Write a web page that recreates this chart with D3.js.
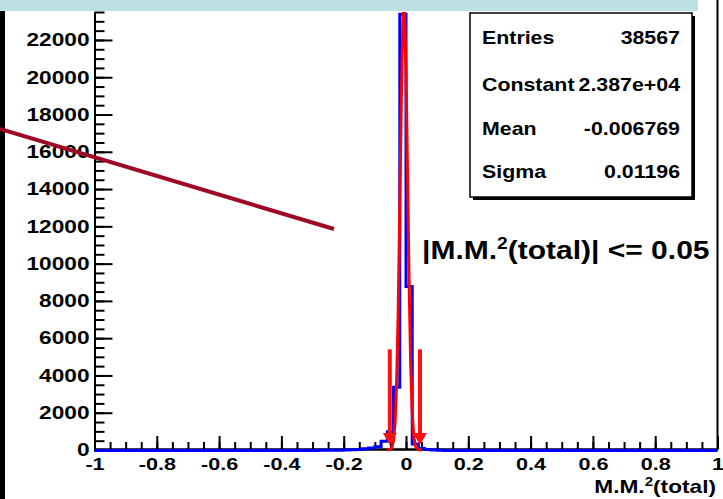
<!DOCTYPE html>
<html>
<head>
<meta charset="utf-8">
<script src="https://cdn.jsdelivr.net/npm/d3@7"></script>
<style>
  body { margin: 0; background: #fff; }
  text { font-family: "Liberation Sans", Arial, sans-serif; font-weight: bold; fill: #000; }
</style>
</head>
<body>
<svg width="723" height="499"></svg>
<script>
// histogram: bins of 0.02 starting at -0.30, everything else is empty
const binStart = -0.30;
const binWidth = 0.02;
const counts = [5, 8, 10, 15, 20, 30, 45, 60, 90, 130, 200, 500, 1000, 3400,
  23400, 8800, 350, 110, 50, 25, 12, 6];

// gaus fit
const fitX = [-0.06, -0.05, -0.045, -0.04, -0.035, -0.03, -0.025, -0.02, -0.015, -0.01,
  -0.0068, -0.005, 0, 0.005, 0.01, 0.015, 0.02, 0.025, 0.03, 0.04, 0.05];
const fitY = [2, 40, 150, 520, 1500, 3700, 7500, 13000, 18900, 23000,
  23870, 23600, 20300, 14700, 8960, 4600, 1980, 720, 220, 12, 0];

// cut arrows
const cutX = [-0.052, 0.045];
const cutFrom = 5400, cutTo = 270;

const statNames = ["Entries", "Constant", "Mean", "Sigma"];
const statValues = ["38567", "2.387e+04", "-0.006769", "0.01196"];

const yMajor = d3.range(0, 22001, 2000);
const yMinor = d3.range(0, 23501, 500);
const xMajor = [-1, -0.8, -0.6, -0.4, -0.2, 0, 0.2, 0.4, 0.6, 0.8, 1];
const xMinor = d3.range(-1, 1.001, 0.05);

const svg = d3.select("svg");

const x = d3.scaleLinear().domain([-1, 1]).range([94.5, 717.5]);
const y = d3.scaleLinear().domain([0, 23500]).range([450, 12]);

// slide decorations
svg.append("rect").attr("x", 0).attr("y", 0).attr("width", 698).attr("height", 11).attr("fill", "#bce0e3");
svg.append("rect").attr("x", 0).attr("y", 11).attr("width", 5).attr("height", 488).attr("fill", "#000");

// right frame
svg.append("line")
  .attr("x1", 717.5).attr("x2", 717.5).attr("y1", 0).attr("y2", 450)
  .attr("stroke", "#000").attr("stroke-width", 2);

// Y axis
svg.append("g")
  .attr("transform", `translate(${x(-1)},0)`)
  .call(d3.axisLeft(y).tickValues(yMinor).tickSize(-10).tickSizeOuter(0).tickFormat(""));
const yAxis = svg.append("g")
  .attr("transform", `translate(${x(-1)},0)`)
  .call(d3.axisLeft(y).tickValues(yMajor).tickSize(-18).tickSizeOuter(0).tickPadding(5)
    .tickFormat(d3.format("d")));
yAxis.selectAll(".tick text")
  .attr("font-size", 18)
  .attr("x", -5 / 1.26)
  .attr("transform", "scale(1.26,1)");

// X axis
svg.append("g")
  .attr("transform", `translate(0,${y(0) - 1})`)
  .call(d3.axisBottom(x).tickValues(xMinor).tickSize(-7).tickSizeOuter(0).tickFormat(""));
const xAxis = svg.append("g")
  .attr("transform", `translate(0,${y(0) - 1})`)
  .call(d3.axisBottom(x).tickValues(xMajor).tickSize(-13).tickSizeOuter(0).tickPadding(9)
    .tickFormat(d => String(+d.toFixed(1))));
xAxis.selectAll(".tick text")
  .attr("font-size", 17)
  .attr("transform", "scale(1.27,1)");

svg.selectAll(".domain").attr("stroke-width", 2);
svg.selectAll(".tick line").attr("stroke-width", 2);
svg.selectAll(".tick text").attr("fill", "#000").style("font-family", "'Liberation Sans', Arial, sans-serif");

// histogram outline
const histPts = [[-1, 0]];
counts.forEach((c, i) => histPts.push([binStart + i * binWidth, c]));
histPts.push([binStart + counts.length * binWidth, 0], [1, 0]);

svg.append("clipPath").attr("id", "plot")
  .append("rect").attr("x", 90).attr("y", 12).attr("width", 640).attr("height", 445);

const plot = svg.append("g").attr("clip-path", "url(#plot)");

plot.append("path")
  .datum(histPts)
  .attr("d", d3.line().x(d => x(d[0])).y(d => y(d[1]) + 0.5).curve(d3.curveStepAfter))
  .attr("fill", "none")
  .attr("stroke", "#0000ff")
  .attr("stroke-width", 3);

// fit curve
plot.append("path")
  .datum(fitX.map((v, i) => [v, fitY[i]]))
  .attr("d", d3.line().x(d => x(d[0])).y(d => y(d[1])))
  .attr("fill", "none")
  .attr("stroke", "#ff0000")
  .attr("stroke-width", 3);

// arrows marking the cut
cutX.forEach(cx => {
  const px = x(cx);
  svg.append("line")
    .attr("x1", px).attr("x2", px)
    .attr("y1", y(cutFrom)).attr("y2", y(cutTo) - 8)
    .attr("stroke", "#ff1010").attr("stroke-width", 4);
  svg.append("path")
    .attr("d", `M${px - 7},${y(cutTo) - 12} L${px + 7},${y(cutTo) - 12} L${px},${y(cutTo)} Z`)
    .attr("fill", "#ff1010");
});

// stats box
const box = { x: 470, y: 13, w: 222, h: 184 };
svg.append("rect").attr("x", box.x + 3).attr("y", box.y + 3).attr("width", box.w).attr("height", box.h).attr("fill", "#000");
svg.append("rect").attr("x", box.x).attr("y", box.y).attr("width", box.w).attr("height", box.h)
  .attr("fill", "#fff").attr("stroke", "#000").attr("stroke-width", 1.5);

const rowY = [44, 91, 135, 178];
statNames.forEach((name, i) => {
  svg.append("text")
    .attr("transform", `translate(482,${rowY[i]}) scale(1.22,1)`)
    .attr("font-size", 17.5)
    .text(name);
  svg.append("text")
    .attr("transform", `translate(680,${rowY[i]}) scale(1.22,1)`)
    .attr("font-size", 17.5)
    .attr("text-anchor", "end")
    .text(statValues[i]);
});

// cut label
const cut = svg.append("text")
  .attr("transform", "translate(422,259) scale(1.2,1)")
  .attr("font-size", 25);
cut.append("tspan").text("|M.M.");
cut.append("tspan").attr("font-size", 16).attr("dy", -10).text("2");
cut.append("tspan").attr("dy", 10).text("(total)| <= 0.05");

// axis title
const title = svg.append("text")
  .attr("transform", "translate(716,493) scale(1.26,1)")
  .attr("font-size", 18)
  .attr("text-anchor", "end");
title.append("tspan").text("M.M.");
title.append("tspan").attr("font-size", 12).attr("dy", -7).text("2");
title.append("tspan").attr("dy", 7).text("(total)");

// pointer line from the slide
svg.append("line")
  .attr("x1", 0).attr("y1", 129).attr("x2", 334).attr("y2", 229)
  .attr("stroke", "#9e0a24").attr("stroke-width", 4);
</script>
</body>
</html>
